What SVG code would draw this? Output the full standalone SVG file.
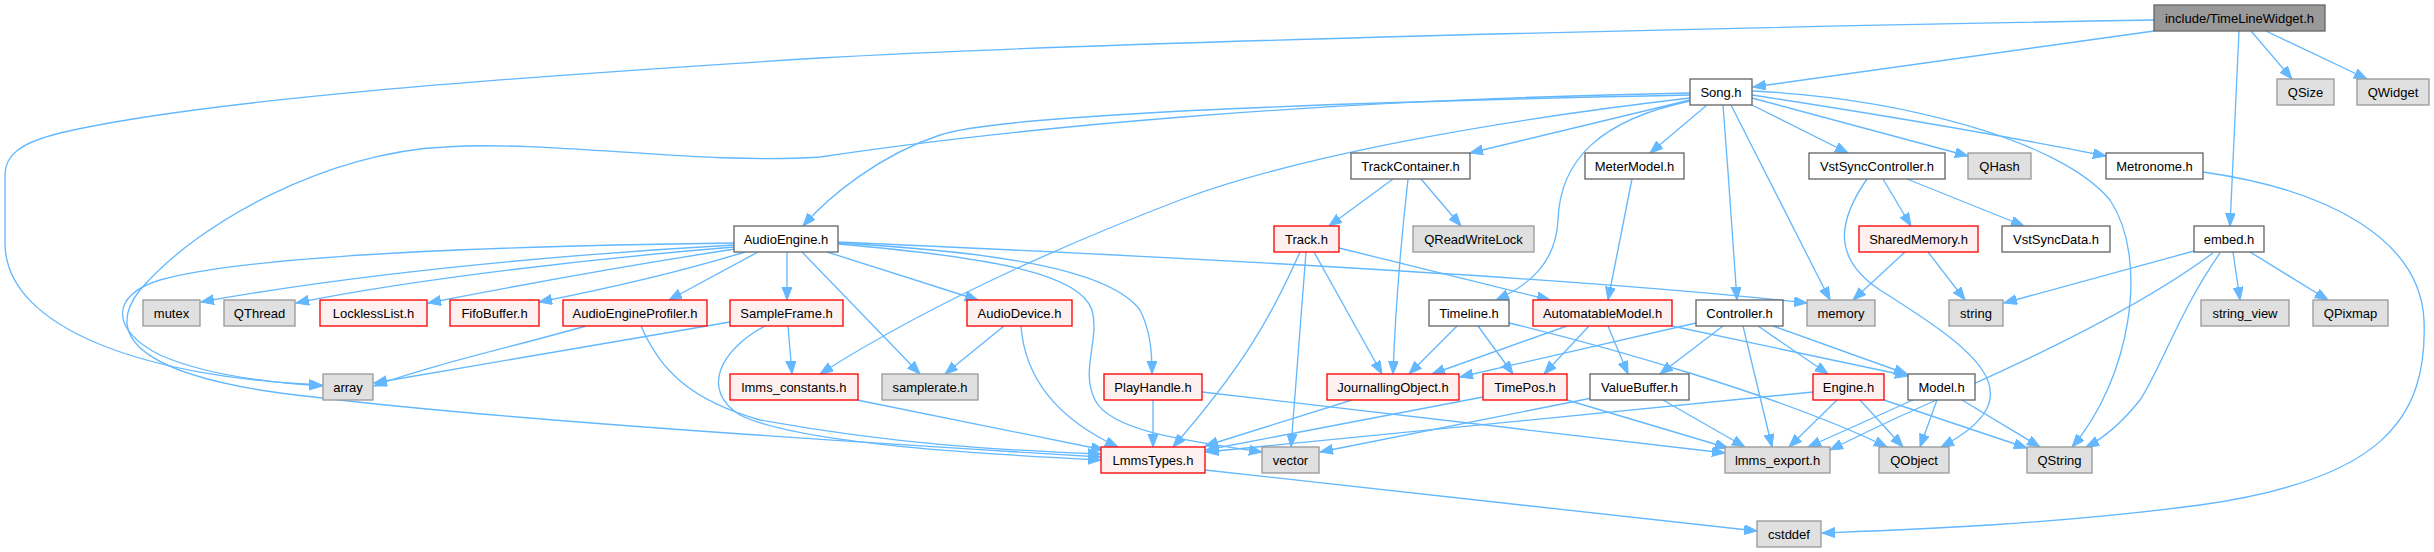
<svg xmlns="http://www.w3.org/2000/svg" width="2434" height="552" viewBox="0 0 2434 552">
<style>
.nd rect{stroke-width:1.33}
.w rect{fill:#ffffff;stroke:#666666}
.g rect{fill:#e0e0e0;stroke:#999999}
.r rect{fill:#fff0f0;stroke:#ff0000}
.root rect{fill:#999999;stroke:#666666}
.nd text{font-family:"Liberation Sans",Arial,Helvetica,sans-serif;font-size:13px;fill:#000000;text-anchor:middle}
#edges path{fill:none;stroke:#63b8ff;stroke-width:1.33;marker-end:url(#ah)}
</style>
<defs>
<marker id="ah" markerUnits="userSpaceOnUse" markerWidth="14" markerHeight="11" refX="13" refY="5" orient="auto">
<path d="M0,0 L13,5 L0,10 z" fill="#63b8ff" stroke="#63b8ff" stroke-width="1"/>
</marker>
</defs>
<rect width="2434" height="552" fill="#ffffff"/>
<g id="edges">
<path d="M2154,31 L1753,87"/>
<path d="M2251,31 L2292,79"/>
<path d="M2266,31 L2367,79"/>
<path d="M2239,31 C2236,100 2232,170 2230,226"/>
<path d="M2154,20 C1700,28 1100,42 820,58 C500,78 200,100 60,133 C20,143 5,155 5,175 L5,243 C5,330 150,378 322,385"/>
<path d="M1690,95 C1300,103 1000,115 940,135 C880,155 830,195 803,226"/>
<path d="M1690,93 C1300,100 1000,130 820,157 C700,165 550,140 445,147 C330,152 200,220 140,290 C100,340 150,380 314,397 C500,420 900,445 1101,457"/>
<path d="M1690,98 C1500,120 1300,155 1180,200 C1050,250 920,310 820,374"/>
<path d="M1690,100 L1470,153"/>
<path d="M1707,105 L1650,153"/>
<path d="M1690,101 C1600,120 1560,160 1558,220 C1556,262 1530,285 1496,300"/>
<path d="M1723,105 C1728,170 1733,240 1737,300"/>
<path d="M1731,105 L1830,300"/>
<path d="M1750,104 L1848,153"/>
<path d="M1752,98 L1968,156"/>
<path d="M1752,95 C1850,110 2000,135 2106,156"/>
<path d="M1752,91 C1900,98 2060,140 2110,200 C2150,260 2130,380 2072,447"/>
<path d="M734,245 C550,255 350,275 201,302"/>
<path d="M734,247 C600,258 420,278 296,303"/>
<path d="M735,249 C630,265 520,285 428,303"/>
<path d="M745,252 C680,272 600,290 539,302"/>
<path d="M758,252 L669,300"/>
<path d="M787,252 L787,300"/>
<path d="M802,252 L920,374"/>
<path d="M827,252 L978,300"/>
<path d="M838,243 C1000,252 1110,270 1140,310 C1150,330 1152,350 1152,374"/>
<path d="M838,244 C1000,258 1080,275 1092,310 C1100,340 1080,370 1095,400 C1110,430 1180,440 1262,452"/>
<path d="M838,242 C1200,258 1600,280 1807,303"/>
<path d="M734,243 C500,246 250,255 160,280 C110,295 110,330 160,355 C200,373 260,382 322,386"/>
<path d="M788,326 L792,374"/>
<path d="M730,322 C600,345 480,365 374,383"/>
<path d="M765,326 C720,350 700,390 740,415 C800,445 1000,455 1101,460"/>
<path d="M586,326 C520,345 430,365 374,386"/>
<path d="M641,326 C660,370 690,400 760,420 C900,445 1000,450 1101,454"/>
<path d="M857,400 L1104,450"/>
<path d="M1004,326 L945,374"/>
<path d="M1021,326 C1025,380 1060,420 1118,447"/>
<path d="M1153,400 L1153,447"/>
<path d="M1202,392 L1725,453"/>
<path d="M1393,179 L1329,226"/>
<path d="M1421,179 L1461,226"/>
<path d="M1408,179 C1400,250 1395,320 1393,374"/>
<path d="M1314,252 L1382,374"/>
<path d="M1306,252 L1291,447"/>
<path d="M1300,252 C1270,320 1240,370 1173,447"/>
<path d="M1339,248 L1550,300"/>
<path d="M1632,179 L1608,300"/>
<path d="M1883,179 L1911,226"/>
<path d="M1907,179 L2024,226"/>
<path d="M1867,179 C1835,225 1835,260 1880,290 C1975,350 2040,395 1941,447"/>
<path d="M1905,252 L1853,300"/>
<path d="M1928,252 L1965,300"/>
<path d="M2203,172 C2330,190 2420,240 2424,320 C2428,420 2380,480 2200,505 C2050,525 1900,530 1822,533"/>
<path d="M2194,251 L2004,303"/>
<path d="M2213,253 C2150,300 2050,350 1960,390 C1900,415 1860,435 1830,450"/>
<path d="M2220,253 C2180,310 2160,370 2140,400 C2120,425 2100,440 2086,447"/>
<path d="M2233,252 L2240,300"/>
<path d="M2250,252 L2328,300"/>
<path d="M1457,326 L1409,374"/>
<path d="M1478,326 L1513,374"/>
<path d="M1509,323 C1600,345 1780,395 1887,447"/>
<path d="M1567,326 L1432,374"/>
<path d="M1589,326 L1544,374"/>
<path d="M1608,326 L1628,374"/>
<path d="M1672,326 L1908,376"/>
<path d="M1696,323 L1460,377"/>
<path d="M1723,326 L1660,374"/>
<path d="M1743,326 L1772,447"/>
<path d="M1758,326 L1828,374"/>
<path d="M1773,326 L1907,374"/>
<path d="M1813,392 L1206,452"/>
<path d="M1837,400 L1789,447"/>
<path d="M1860,400 L1903,447"/>
<path d="M1884,400 L2027,448"/>
<path d="M1913,400 L1808,447"/>
<path d="M1937,400 L1920,447"/>
<path d="M1962,400 L2040,447"/>
<path d="M1352,400 L1205,446"/>
<path d="M1483,397 L1206,450"/>
<path d="M1567,400 L1728,448"/>
<path d="M1592,398 L1320,452"/>
<path d="M1663,400 L1745,447"/>
<path d="M1205,470 L1757,531"/>
</g>
<g id="n_timelinewidget" class="nd root"><rect x="2154" y="5" width="171" height="26"/><text x="2239.5" y="23">include/TimeLineWidget.h</text></g>
<g id="n_song" class="nd w"><rect x="1690" y="79" width="62" height="26"/><text x="1721" y="97">Song.h</text></g>
<g id="n_qsize" class="nd g"><rect x="2277" y="79" width="57" height="26"/><text x="2305.5" y="97">QSize</text></g>
<g id="n_qwidget" class="nd g"><rect x="2357" y="79" width="72" height="26"/><text x="2393" y="97">QWidget</text></g>
<g id="n_trackcontainer" class="nd w"><rect x="1351" y="153" width="119" height="26"/><text x="1410.5" y="171">TrackContainer.h</text></g>
<g id="n_metermodel" class="nd w"><rect x="1585" y="153" width="99" height="26"/><text x="1634.5" y="171">MeterModel.h</text></g>
<g id="n_vstsynccontroller" class="nd w"><rect x="1809" y="153" width="136" height="26"/><text x="1877" y="171">VstSyncController.h</text></g>
<g id="n_qhash" class="nd g"><rect x="1968" y="153" width="63" height="26"/><text x="1999.5" y="171">QHash</text></g>
<g id="n_metronome" class="nd w"><rect x="2106" y="153" width="97" height="26"/><text x="2154.5" y="171">Metronome.h</text></g>
<g id="n_audioengine" class="nd w"><rect x="734" y="226" width="104" height="26"/><text x="786" y="244">AudioEngine.h</text></g>
<g id="n_track" class="nd r"><rect x="1274" y="226" width="65" height="26"/><text x="1306.5" y="244">Track.h</text></g>
<g id="n_qreadwritelock" class="nd g"><rect x="1413" y="226" width="121" height="26"/><text x="1473.5" y="244">QReadWriteLock</text></g>
<g id="n_sharedmemory" class="nd r"><rect x="1859" y="226" width="119" height="26"/><text x="1918.5" y="244">SharedMemory.h</text></g>
<g id="n_vstsyncdata" class="nd w"><rect x="2002" y="226" width="108" height="26"/><text x="2056" y="244">VstSyncData.h</text></g>
<g id="n_embed" class="nd w"><rect x="2194" y="226" width="70" height="26"/><text x="2229" y="244">embed.h</text></g>
<g id="n_mutex" class="nd g"><rect x="143" y="300" width="57" height="26"/><text x="171.5" y="318">mutex</text></g>
<g id="n_qthread" class="nd g"><rect x="224" y="300" width="71" height="26"/><text x="259.5" y="318">QThread</text></g>
<g id="n_locklesslist" class="nd r"><rect x="320" y="300" width="107" height="26"/><text x="373.5" y="318">LocklessList.h</text></g>
<g id="n_fifobuffer" class="nd r"><rect x="450" y="300" width="89" height="26"/><text x="494.5" y="318">FifoBuffer.h</text></g>
<g id="n_audioengineprofiler" class="nd r"><rect x="563" y="300" width="144" height="26"/><text x="635" y="318">AudioEngineProfiler.h</text></g>
<g id="n_sampleframe" class="nd r"><rect x="730" y="300" width="113" height="26"/><text x="786.5" y="318">SampleFrame.h</text></g>
<g id="n_audiodevice" class="nd r"><rect x="967" y="300" width="105" height="26"/><text x="1019.5" y="318">AudioDevice.h</text></g>
<g id="n_timeline" class="nd w"><rect x="1429" y="300" width="80" height="26"/><text x="1469" y="318">Timeline.h</text></g>
<g id="n_automatablemodel" class="nd r"><rect x="1533" y="300" width="139" height="26"/><text x="1602.5" y="318">AutomatableModel.h</text></g>
<g id="n_controller" class="nd w"><rect x="1696" y="300" width="87" height="26"/><text x="1739.5" y="318">Controller.h</text></g>
<g id="n_memory" class="nd g"><rect x="1807" y="300" width="68" height="26"/><text x="1841" y="318">memory</text></g>
<g id="n_string" class="nd g"><rect x="1949" y="300" width="54" height="26"/><text x="1976" y="318">string</text></g>
<g id="n_string_view" class="nd g"><rect x="2201" y="300" width="88" height="26"/><text x="2245" y="318">string_view</text></g>
<g id="n_qpixmap" class="nd g"><rect x="2313" y="300" width="75" height="26"/><text x="2350.5" y="318">QPixmap</text></g>
<g id="n_array" class="nd g"><rect x="323" y="374" width="50" height="26"/><text x="348" y="392">array</text></g>
<g id="n_lmms_constants" class="nd r"><rect x="730" y="374" width="128" height="26"/><text x="794" y="392">lmms_constants.h</text></g>
<g id="n_samplerate" class="nd g"><rect x="882" y="374" width="96" height="26"/><text x="930" y="392">samplerate.h</text></g>
<g id="n_playhandle" class="nd r"><rect x="1104" y="374" width="98" height="26"/><text x="1153" y="392">PlayHandle.h</text></g>
<g id="n_journallingobject" class="nd r"><rect x="1327" y="374" width="132" height="26"/><text x="1393" y="392">JournallingObject.h</text></g>
<g id="n_timepos" class="nd r"><rect x="1483" y="374" width="84" height="26"/><text x="1525" y="392">TimePos.h</text></g>
<g id="n_valuebuffer" class="nd w"><rect x="1590" y="374" width="99" height="26"/><text x="1639.5" y="392">ValueBuffer.h</text></g>
<g id="n_engine" class="nd r"><rect x="1813" y="374" width="71" height="26"/><text x="1848.5" y="392">Engine.h</text></g>
<g id="n_model" class="nd w"><rect x="1908" y="374" width="67" height="26"/><text x="1941.5" y="392">Model.h</text></g>
<g id="n_lmmstypes" class="nd r"><rect x="1101" y="447" width="104" height="26"/><text x="1153" y="465">LmmsTypes.h</text></g>
<g id="n_vector" class="nd g"><rect x="1262" y="447" width="57" height="26"/><text x="1290.5" y="465">vector</text></g>
<g id="n_lmms_export" class="nd g"><rect x="1725" y="447" width="105" height="26"/><text x="1777.5" y="465">lmms_export.h</text></g>
<g id="n_qobject" class="nd g"><rect x="1879" y="447" width="70" height="26"/><text x="1914" y="465">QObject</text></g>
<g id="n_qstring" class="nd g"><rect x="2027" y="447" width="65" height="26"/><text x="2059.5" y="465">QString</text></g>
<g id="n_cstddef" class="nd g"><rect x="1757" y="521" width="64" height="26"/><text x="1789" y="539">cstddef</text></g>
</svg>
